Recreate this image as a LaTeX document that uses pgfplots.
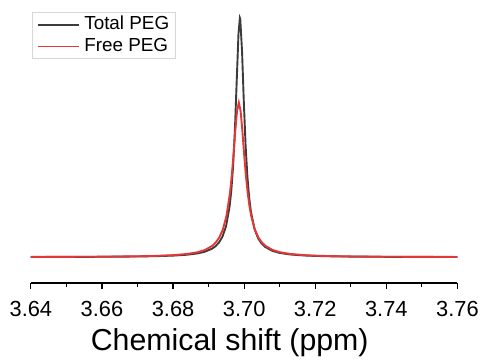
\documentclass[border=0pt]{standalone}
\usepackage{fontspec}
\setmainfont{Liberation Sans}
\usepackage{pgfplots}
\usepackage{pgfplotstable}
\pgfplotsset{compat=1.18}
\definecolor{totc}{RGB}{60,60,60}
\definecolor{freec}{RGB}{228,56,56}
\pgfplotstableread{
x y
3.6399 0.00065
3.6499 0.00094
3.6599 0.00148
3.6699 0.00269
3.6749 0.00392
3.6799 0.00626
3.6839 0.0100
3.6869 0.0156
3.6889 0.0224
3.6909 0.0348
3.6919 0.0451
3.6929 0.0607
3.6939 0.0857
3.6949 0.129
3.6959 0.211
3.6964 0.281
3.6969 0.384
3.6974 0.534
3.6979 0.735
3.6984 0.934
3.6988 1.000
3.6989 0.996
3.6994 0.862
3.6999 0.650
3.7004 0.468
3.7009 0.338
3.7014 0.250
3.7019 0.190
3.7029 0.118
3.7039 0.0796
3.7049 0.0570
3.7059 0.0427
3.7079 0.0265
3.7099 0.0179
3.7129 0.0112
3.7169 0.00682
3.7199 0.00503
3.7249 0.00329
3.7299 0.00232
3.7399 0.00133
3.7499 0.00086
3.7600 0.00060
}\totalpeg
\pgfplotstableread{
x y
3.6400 0.00083
3.6500 0.00121
3.6600 0.00192
3.6700 0.00349
3.6750 0.00512
3.6800 0.00822
3.6840 0.0133
3.6870 0.0208
3.6890 0.0301
3.6910 0.0470
3.6920 0.0611
3.6930 0.0822
3.6940 0.1155
3.6950 0.171
3.6960 0.267
3.6965 0.339
3.6970 0.428
3.6975 0.527
3.6980 0.611
3.6985 0.646
3.6990 0.611
3.6995 0.527
3.7000 0.428
3.7005 0.339
3.7010 0.267
3.7015 0.212
3.7020 0.171
3.7030 0.1155
3.7040 0.0822
3.7050 0.0611
3.7060 0.0470
3.7080 0.0301
3.7100 0.0208
3.7130 0.0133
3.7170 0.00822
3.7200 0.00611
3.7250 0.00403
3.7300 0.00286
3.7400 0.00165
3.7500 0.00107
3.7600 0.00075
}\freepeg
\begin{document}
\begin{tikzpicture}
\begin{axis}[
  scale only axis,
  width=428bp, height=276bp,
  xmin=3.64, xmax=3.76,
  ymin=-0.1083, ymax=1.0417,
  axis x line=bottom,
  axis line style={-, line width=1.2bp, black},
  hide y axis,
  xtick={3.64,3.66,...,3.76},
  minor x tick num=1,
  xtick align=outside,
  major tick length=6bp,
  minor tick length=3.5bp,
  every tick/.style={line width=1.2bp, black},
  /pgf/number format/assume math mode=true,
  xticklabel style={font=\fontsize{22}{26}\selectfont, anchor=base, yshift=-28bp,
    /pgf/number format/fixed, /pgf/number format/fixed zerofill,
    /pgf/number format/precision=2},
  scaled x ticks=false,
  xlabel={Chemical shift (ppm)},
  xlabel style={font=\fontsize{30.5}{36}\selectfont, at={(axis description cs:0.5,0)}, anchor=base, yshift=-67.5bp, xshift=-14.5bp},
  legend style={at={(axis description cs:0,1)}, anchor=north west, xshift=1.3bp, yshift=-4.3bp,
    draw={rgb,255:red,215;green,215;blue,215}, line width=0.8bp,
    font=\fontsize{19}{23}\selectfont, inner xsep=4bp, inner ysep=1.5bp,
    nodes={inner xsep=2bp, inner ysep=2bp, text height=13.5bp, text depth=3.5bp},
    row sep=1bp, column sep=2bp,
    cells={anchor=west}},
  legend image code/.code={\draw[#1] (0bp,0bp) -- (42bp,0bp);},
  clip=false,
]
\addplot[color=totc, line width=1.9bp] table[x=x,y=y] {\totalpeg};
\addlegendentry{Total PEG}
\addplot[color=freec, line width=1.9bp] table[x=x,y=y] {\freepeg};
\addlegendentry{Free PEG}
\end{axis}
\path[use as bounding box] (-31bp,-69bp) rectangle (451bp,284bp);
\end{tikzpicture}
\end{document}
